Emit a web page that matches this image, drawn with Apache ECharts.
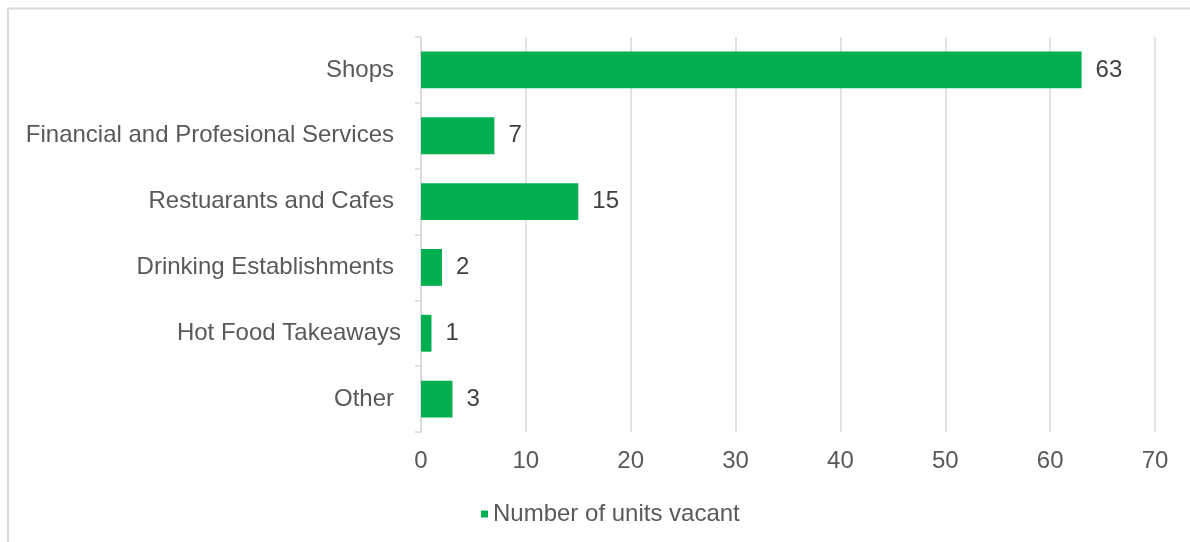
<!DOCTYPE html>
<html>
<head>
<meta charset="utf-8">
<script src="https://cdn.jsdelivr.net/npm/echarts@6/dist/echarts.min.js"></script>
<style>
  html, body { margin: 0; padding: 0; background: #ffffff; }
  #chart { width: 1190px; height: 542px; }
</style>
</head>
<body>
<div id="chart"></div>
<script>
// Vacant units by use class
const categories = [
  'Shops',
  'Financial and Profesional Services',
  'Restuarants and Cafes',
  'Drinking Establishments',
  'Hot Food Takeaways',
  'Other'
];
const vacantUnits = [63, 7, 15, 2, 1, 3];
const seriesName = 'Number of units vacant';
const xTicks = { min: 0, max: 70, interval: 10 };

const textColor = '#595959';
const barColor = '#00B050';
const lineColor = '#d9d9d9';
const fontFamily = '"Liberation Sans", Arial, sans-serif';
const fontSize = 24;

const chart = echarts.init(document.getElementById('chart'), null, { renderer: 'canvas' });

chart.setOption({
  animation: false,
  backgroundColor: '#ffffff',
  textStyle: { fontFamily: fontFamily },
  graphic: [{
    type: 'rect',
    shape: { x: 8, y: 8.5, width: 1300, height: 700 },
    style: { fill: 'none', stroke: lineColor, lineWidth: 2 },
    silent: true
  }],
  grid: { left: 421, right: 35, top: 37, bottom: 110 },
  legend: {
    data: [seriesName],
    left: 476,
    top: 497,
    icon: 'rect',
    itemWidth: 7,
    itemHeight: 7,
    itemGap: 6,
    textStyle: { color: textColor, fontSize: fontSize, fontFamily: fontFamily }
  },
  xAxis: {
    type: 'value',
    min: xTicks.min,
    max: xTicks.max,
    interval: xTicks.interval,
    axisLine: { show: false },
    axisTick: { show: false },
    splitLine: { show: true, lineStyle: { color: lineColor, width: 1.5 } },
    axisLabel: { color: textColor, fontSize: fontSize, margin: 17, fontFamily: fontFamily }
  },
  yAxis: {
    type: 'category',
    inverse: true,
    data: categories.map(function (c) {
      // the takeaway label sits slightly closer to the axis
      return c === 'Hot Food Takeaways'
        ? { value: c }
        : { value: c, textStyle: { padding: [0, 7, 0, 0] } };
    }),
    axisLine: { show: true, lineStyle: { color: lineColor, width: 1.5 } },
    axisTick: { show: true, length: 6, lineStyle: { color: lineColor, width: 1.5 } },
    axisLabel: { color: textColor, fontSize: fontSize, margin: 20, fontFamily: fontFamily }
  },
  series: [{
    name: seriesName,
    type: 'bar',
    data: vacantUnits,
    barCategoryGap: '44%',
    itemStyle: { color: barColor },
    label: {
      show: true,
      position: 'right',
      distance: 14,
      color: '#404040',
      fontSize: fontSize,
      fontFamily: fontFamily
    }
  }]
});
</script>
</body>
</html>
